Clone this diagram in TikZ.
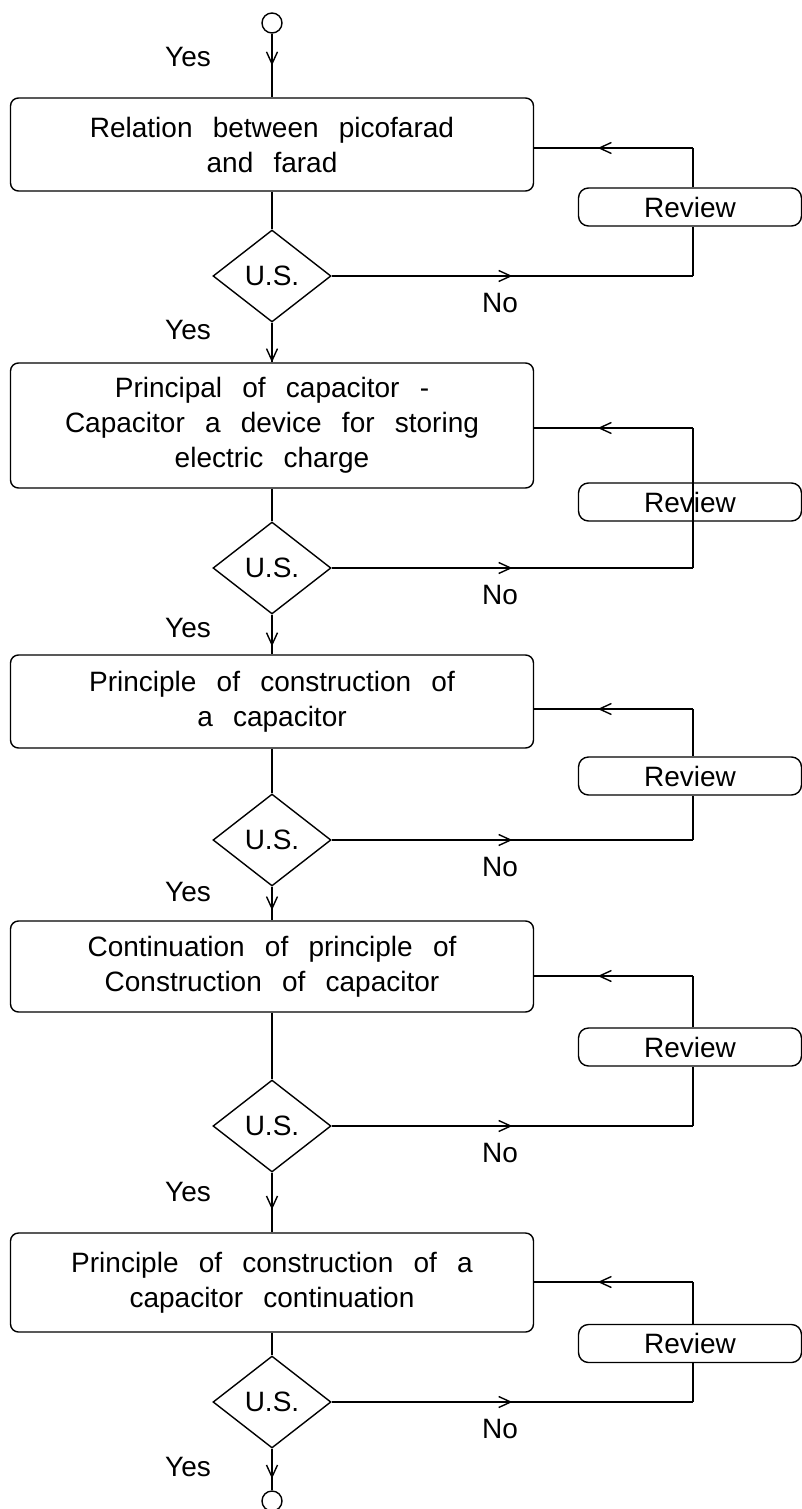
\documentclass[tikz,border=0pt]{standalone}
\usepackage{fontspec}
\setmainfont[WordSpace=2.6]{Liberation Sans}
\usetikzlibrary{arrows.meta}
\usetikzlibrary{shapes.geometric}
\usetikzlibrary{decorations.markings}
\usetikzlibrary{positioning}
\tikzset{midarrow/.style = {decoration={markings,
                                  mark=at position #1 with {\arrow{Straight Barb[length=6pt, width=5.5pt]}}},
                      postaction={decorate}}}
\tikzset{topic/.style = {draw, rounded corners=4pt, minimum width=261.5pt, align=center, inner sep=0}}
\tikzset{review/.style = {draw, rounded corners=5pt, minimum width=111.5pt, minimum height=19pt, inner sep=0}}
\tikzset{check/.style = {draw, diamond, minimum width=59pt, minimum height=46pt, inner sep=0}}
\tikzset{term/.style = {draw, circle, minimum size=10pt, inner sep=0}}

\begin{document}
\begin{tikzpicture}[x=0.5pt, y=-0.5pt, line width=0.7pt, font=\fontsize{14}{17.5}\selectfont]
      \useasboundingbox (0, 0) rectangle (802, 1509);

      \node [term] (start) at (272, 23) {};
      \node [topic, minimum height=46.5pt] (box1) at (272, 144.5) {Relation between picofarad\\and farad};
      \node [topic, minimum height=62.5pt] (box2) at (272, 425.5) {Principal of capacitor -\\Capacitor a device for storing\\electric charge};
      \node [topic, minimum height=46.5pt] (box3) at (272, 701.5) {Principle of construction of\\a capacitor};
      \node [topic, minimum height=45.5pt] (box4) at (272, 966.5) {Continuation of principle of\\Construction of capacitor};
      \node [topic, minimum height=49.5pt] (box5) at (272, 1282.5) {Principle of construction of a\\capacitor continuation};
      \node [term] (stop) at (272, 1501) {};

      \foreach \i/\dy/\ry/\ly in {1/276/207/148, 2/568/502/428, 3/840/776/709, 4/1126/1047/976, 5/1402/1343.5/1282} {
        \node [check] (us\i) at (272, \dy) {U.S.};
        \node [review] (rev\i) at (690, \ry) {Review};
        \node (no\i) at (500, {\dy+27}) {No};
        \coordinate (turn\i) at (693, \dy);
        \coordinate (back\i) at (693, \ly);
        \draw (box\i) -- (us\i);
        \draw [midarrow=0.5] (us\i.east) -- (turn\i);
        \draw (turn\i) -- (turn\i |- rev\i.south);
        \draw (turn\i |- rev\i.north) -- (back\i);
        \draw [midarrow=0.6] (back\i) -- (back\i -| box\i.east);
      }
      \draw (rev2.south -| turn2) -- (rev2.north -| turn2);

      \draw [midarrow=0.5] (start) -- (box1);
      \draw [midarrow=1] (us1) -- (box2);
      \draw [midarrow=0.8] (us2) -- (box3);
      \draw [midarrow=0.7] (us3) -- (box4);
      \draw [midarrow=0.62] (us4) -- (box5);
      \draw [midarrow=0.72] (us5) -- (stop);

      \node (yes0) at (188, 57) {Yes};
      \node (yes1) at (188, 330) {Yes};
      \node (yes2) at (188, 628) {Yes};
      \node (yes3) at (188, 892) {Yes};
      \node (yes4) at (188, 1192) {Yes};
      \node (yes5) at (188, 1467) {Yes};
    \end{tikzpicture}
\end{document}
